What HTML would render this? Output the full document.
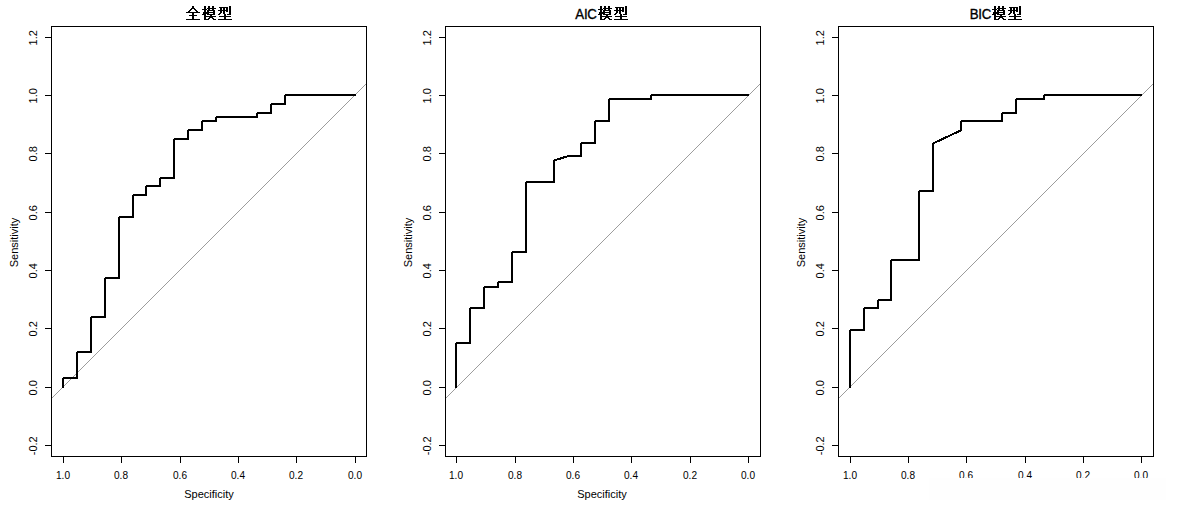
<!DOCTYPE html><html><head><meta charset="utf-8"><style>html,body{margin:0;padding:0;background:#fff;}svg{display:block;}</style></head><body>
<svg width="1180" height="508" viewBox="0 0 1180 508">
<rect width="1180" height="508" fill="#fff"/>
<g shape-rendering="crispEdges"><rect x="51.5" y="26.5" width="315" height="430" fill="none" stroke="#000" stroke-width="1"/><line x1="45" y1="37.5" x2="51" y2="37.5" stroke="#000" stroke-width="1"/><line x1="45" y1="95.5" x2="51" y2="95.5" stroke="#000" stroke-width="1"/><line x1="45" y1="153.5" x2="51" y2="153.5" stroke="#000" stroke-width="1"/><line x1="45" y1="212.5" x2="51" y2="212.5" stroke="#000" stroke-width="1"/><line x1="45" y1="270.5" x2="51" y2="270.5" stroke="#000" stroke-width="1"/><line x1="45" y1="328.5" x2="51" y2="328.5" stroke="#000" stroke-width="1"/><line x1="45" y1="387.5" x2="51" y2="387.5" stroke="#000" stroke-width="1"/><line x1="45" y1="445.5" x2="51" y2="445.5" stroke="#000" stroke-width="1"/><line x1="63.5" y1="457" x2="63.5" y2="463" stroke="#000" stroke-width="1"/><line x1="121.5" y1="457" x2="121.5" y2="463" stroke="#000" stroke-width="1"/><line x1="180.5" y1="457" x2="180.5" y2="463" stroke="#000" stroke-width="1"/><line x1="238.5" y1="457" x2="238.5" y2="463" stroke="#000" stroke-width="1"/><line x1="296.5" y1="457" x2="296.5" y2="463" stroke="#000" stroke-width="1"/><line x1="355.5" y1="457" x2="355.5" y2="463" stroke="#000" stroke-width="1"/></g>
<line x1="52" y1="398" x2="366" y2="84" stroke="#9c9c9c" stroke-width="1" shape-rendering="crispEdges"/>
<path d="M63 387 L63 378 L77 378 L77 352 L91 352 L91 317 L105 317 L105 278 L119 278 L119 217 L133 217 L133 195 L146 195 L146 186 L160 186 L160 178 L174 178 L174 139 L188 139 L188 130 L202 130 L202 121 L216 121 L216 117 L257 117 L257 113 L271 113 L271 104 L285 104 L285 95 L355 95" fill="none" stroke="#000" stroke-width="2" stroke-linejoin="bevel" stroke-linecap="round" shape-rendering="crispEdges"/>
<g font-family='"Liberation Sans", sans-serif' font-size="11" fill="#000"><text transform="translate(63 479) scale(0.92 1)" text-anchor="middle">1.0</text><text transform="translate(121 479) scale(0.92 1)" text-anchor="middle">0.8</text><text transform="translate(180 479) scale(0.92 1)" text-anchor="middle">0.6</text><text transform="translate(238 479) scale(0.92 1)" text-anchor="middle">0.4</text><text transform="translate(296 479) scale(0.92 1)" text-anchor="middle">0.2</text><text transform="translate(355 479) scale(0.92 1)" text-anchor="middle">0.0</text><text transform="translate(36.7 37.8) rotate(-90)" text-anchor="middle">1.2</text><text transform="translate(36.7 95.8) rotate(-90)" text-anchor="middle">1.0</text><text transform="translate(36.7 153.8) rotate(-90)" text-anchor="middle">0.8</text><text transform="translate(36.7 212.8) rotate(-90)" text-anchor="middle">0.6</text><text transform="translate(36.7 270.8) rotate(-90)" text-anchor="middle">0.4</text><text transform="translate(36.7 328.8) rotate(-90)" text-anchor="middle">0.2</text><text transform="translate(36.7 387.8) rotate(-90)" text-anchor="middle">0.0</text><text transform="translate(36.7 445.8) rotate(-90)" text-anchor="middle">-0.2</text><text x="209" y="498" text-anchor="middle">Specificity</text><text transform="translate(18 242.5) rotate(-90)" text-anchor="middle">Sensitivity</text></g>
<g fill="#000"><path shape-rendering="crispEdges" d="M192 6h2v1h-2zM192 7h2v1h-2zM191 8h4v1h-4zM190 9h2v1h-2zM194 9h2v1h-2zM189 10h2v1h-2zM195 10h2v1h-2zM188 11h2v1h-2zM196 11h2v1h-2zM186 12h14v1h-14zM192 13h2v1h-2zM192 14h2v1h-2zM189 15h8v1h-8zM192 16h2v1h-2zM192 17h2v1h-2zM192 18h2v1h-2zM186 19h14v1h-14z"/><path shape-rendering="crispEdges" d="M204 6h2v1h-2zM208 6h2v1h-2zM212 6h2v1h-2zM204 7h2v1h-2zM208 7h2v1h-2zM212 7h2v1h-2zM204 8h2v1h-2zM207 8h9v1h-9zM202 9h5v1h-5zM208 9h2v1h-2zM212 9h2v1h-2zM204 10h2v1h-2zM207 10h8v1h-8zM204 11h2v1h-2zM207 11h2v1h-2zM213 11h2v1h-2zM203 12h12v1h-12zM203 13h6v1h-6zM213 13h2v1h-2zM202 14h4v1h-4zM207 14h8v1h-8zM204 15h2v1h-2zM210 15h2v1h-2zM204 16h12v1h-12zM204 17h2v1h-2zM209 17h4v1h-4zM204 18h2v1h-2zM208 18h2v1h-2zM212 18h2v1h-2zM204 19h5v1h-5zM213 19h3v1h-3z"/><path shape-rendering="crispEdges" d="M229 6h2v1h-2zM219 7h9v1h-9zM229 7h2v1h-2zM220 8h2v1h-2zM223 8h2v1h-2zM226 8h2v1h-2zM229 8h2v1h-2zM220 9h2v1h-2zM223 9h2v1h-2zM226 9h2v1h-2zM229 9h2v1h-2zM218 10h10v1h-10zM229 10h2v1h-2zM220 11h2v1h-2zM223 11h2v1h-2zM226 11h2v1h-2zM229 11h2v1h-2zM220 12h2v1h-2zM223 12h2v1h-2zM229 12h2v1h-2zM219 13h2v1h-2zM223 13h2v1h-2zM229 13h2v1h-2zM218 14h2v1h-2zM224 14h2v1h-2zM227 14h4v1h-4zM224 15h2v1h-2zM219 16h12v1h-12zM224 17h2v1h-2zM224 18h2v1h-2zM218 19h14v1h-14z"/></g>
<g shape-rendering="crispEdges"><rect x="445.5" y="26.5" width="315" height="430" fill="none" stroke="#000" stroke-width="1"/><line x1="439" y1="37.5" x2="445" y2="37.5" stroke="#000" stroke-width="1"/><line x1="439" y1="95.5" x2="445" y2="95.5" stroke="#000" stroke-width="1"/><line x1="439" y1="153.5" x2="445" y2="153.5" stroke="#000" stroke-width="1"/><line x1="439" y1="212.5" x2="445" y2="212.5" stroke="#000" stroke-width="1"/><line x1="439" y1="270.5" x2="445" y2="270.5" stroke="#000" stroke-width="1"/><line x1="439" y1="328.5" x2="445" y2="328.5" stroke="#000" stroke-width="1"/><line x1="439" y1="387.5" x2="445" y2="387.5" stroke="#000" stroke-width="1"/><line x1="439" y1="445.5" x2="445" y2="445.5" stroke="#000" stroke-width="1"/><line x1="456.5" y1="457" x2="456.5" y2="463" stroke="#000" stroke-width="1"/><line x1="515.5" y1="457" x2="515.5" y2="463" stroke="#000" stroke-width="1"/><line x1="573.5" y1="457" x2="573.5" y2="463" stroke="#000" stroke-width="1"/><line x1="631.5" y1="457" x2="631.5" y2="463" stroke="#000" stroke-width="1"/><line x1="690.5" y1="457" x2="690.5" y2="463" stroke="#000" stroke-width="1"/><line x1="748.5" y1="457" x2="748.5" y2="463" stroke="#000" stroke-width="1"/></g>
<line x1="446" y1="398" x2="760" y2="84" stroke="#9c9c9c" stroke-width="1" shape-rendering="crispEdges"/>
<path d="M456 387 L456 343 L470 343 L470 308 L484 308 L484 287 L498 287 L498 282 L512 282 L512 252 L526 252 L526 182 L554 182 L554 160.5 L568.5 156 L581 156 L581 143 L595 143 L595 121 L609 121 L609 99 L651 99 L651 95 L748 95" fill="none" stroke="#000" stroke-width="2" stroke-linejoin="bevel" stroke-linecap="round" shape-rendering="crispEdges"/>
<g font-family='"Liberation Sans", sans-serif' font-size="11" fill="#000"><text transform="translate(456 479) scale(0.92 1)" text-anchor="middle">1.0</text><text transform="translate(515 479) scale(0.92 1)" text-anchor="middle">0.8</text><text transform="translate(573 479) scale(0.92 1)" text-anchor="middle">0.6</text><text transform="translate(631 479) scale(0.92 1)" text-anchor="middle">0.4</text><text transform="translate(690 479) scale(0.92 1)" text-anchor="middle">0.2</text><text transform="translate(748 479) scale(0.92 1)" text-anchor="middle">0.0</text><text transform="translate(430.7 37.8) rotate(-90)" text-anchor="middle">1.2</text><text transform="translate(430.7 95.8) rotate(-90)" text-anchor="middle">1.0</text><text transform="translate(430.7 153.8) rotate(-90)" text-anchor="middle">0.8</text><text transform="translate(430.7 212.8) rotate(-90)" text-anchor="middle">0.6</text><text transform="translate(430.7 270.8) rotate(-90)" text-anchor="middle">0.4</text><text transform="translate(430.7 328.8) rotate(-90)" text-anchor="middle">0.2</text><text transform="translate(430.7 387.8) rotate(-90)" text-anchor="middle">0.0</text><text transform="translate(430.7 445.8) rotate(-90)" text-anchor="middle">-0.2</text><text x="602" y="498" text-anchor="middle">Specificity</text><text transform="translate(412 242.5) rotate(-90)" text-anchor="middle">Sensitivity</text></g>
<g fill="#000"><path shape-rendering="crispEdges" d="M600 6h2v1h-2zM604 6h2v1h-2zM608 6h2v1h-2zM600 7h2v1h-2zM604 7h2v1h-2zM608 7h2v1h-2zM600 8h2v1h-2zM603 8h9v1h-9zM598 9h5v1h-5zM604 9h2v1h-2zM608 9h2v1h-2zM600 10h2v1h-2zM603 10h8v1h-8zM600 11h2v1h-2zM603 11h2v1h-2zM609 11h2v1h-2zM599 12h12v1h-12zM599 13h6v1h-6zM609 13h2v1h-2zM598 14h4v1h-4zM603 14h8v1h-8zM600 15h2v1h-2zM606 15h2v1h-2zM600 16h12v1h-12zM600 17h2v1h-2zM605 17h4v1h-4zM600 18h2v1h-2zM604 18h2v1h-2zM608 18h2v1h-2zM600 19h5v1h-5zM609 19h3v1h-3z"/><path shape-rendering="crispEdges" d="M625 6h2v1h-2zM615 7h9v1h-9zM625 7h2v1h-2zM616 8h2v1h-2zM619 8h2v1h-2zM622 8h2v1h-2zM625 8h2v1h-2zM616 9h2v1h-2zM619 9h2v1h-2zM622 9h2v1h-2zM625 9h2v1h-2zM614 10h10v1h-10zM625 10h2v1h-2zM616 11h2v1h-2zM619 11h2v1h-2zM622 11h2v1h-2zM625 11h2v1h-2zM616 12h2v1h-2zM619 12h2v1h-2zM625 12h2v1h-2zM615 13h2v1h-2zM619 13h2v1h-2zM625 13h2v1h-2zM614 14h2v1h-2zM620 14h2v1h-2zM623 14h4v1h-4zM620 15h2v1h-2zM615 16h12v1h-12zM620 17h2v1h-2zM620 18h2v1h-2zM614 19h14v1h-14z"/></g>
<text transform="translate(575.3 19) scale(0.95 1)" font-family='"Liberation Sans", sans-serif' font-size="14" fill="#000" stroke="#000" stroke-width="0.35" letter-spacing="-0.3">AIC</text>
<g shape-rendering="crispEdges"><rect x="838.5" y="26.5" width="315" height="430" fill="none" stroke="#000" stroke-width="1"/><line x1="832" y1="37.5" x2="838" y2="37.5" stroke="#000" stroke-width="1"/><line x1="832" y1="95.5" x2="838" y2="95.5" stroke="#000" stroke-width="1"/><line x1="832" y1="153.5" x2="838" y2="153.5" stroke="#000" stroke-width="1"/><line x1="832" y1="212.5" x2="838" y2="212.5" stroke="#000" stroke-width="1"/><line x1="832" y1="270.5" x2="838" y2="270.5" stroke="#000" stroke-width="1"/><line x1="832" y1="328.5" x2="838" y2="328.5" stroke="#000" stroke-width="1"/><line x1="832" y1="387.5" x2="838" y2="387.5" stroke="#000" stroke-width="1"/><line x1="832" y1="445.5" x2="838" y2="445.5" stroke="#000" stroke-width="1"/><line x1="850.5" y1="457" x2="850.5" y2="463" stroke="#000" stroke-width="1"/><line x1="908.5" y1="457" x2="908.5" y2="463" stroke="#000" stroke-width="1"/><line x1="966.5" y1="457" x2="966.5" y2="463" stroke="#000" stroke-width="1"/><line x1="1025.5" y1="457" x2="1025.5" y2="463" stroke="#000" stroke-width="1"/><line x1="1083.5" y1="457" x2="1083.5" y2="463" stroke="#000" stroke-width="1"/><line x1="1141.5" y1="457" x2="1141.5" y2="463" stroke="#000" stroke-width="1"/></g>
<line x1="839" y1="398" x2="1153" y2="84" stroke="#9c9c9c" stroke-width="1" shape-rendering="crispEdges"/>
<path d="M850 387 L850 330 L864 330 L864 308 L878 308 L878 300 L891 300 L891 260 L919 260 L919 191 L933 191 L933 143.5 L961 130.3 L961 121 L1002 121 L1002 113 L1016 113 L1016 99 L1044 99 L1044 95 L1141 95" fill="none" stroke="#000" stroke-width="2" stroke-linejoin="bevel" stroke-linecap="round" shape-rendering="crispEdges"/>
<g font-family='"Liberation Sans", sans-serif' font-size="11" fill="#000"><text transform="translate(850 479) scale(0.92 1)" text-anchor="middle">1.0</text><text transform="translate(908 479) scale(0.92 1)" text-anchor="middle">0.8</text><text transform="translate(966 479) scale(0.92 1)" text-anchor="middle">0.6</text><text transform="translate(1025 479) scale(0.92 1)" text-anchor="middle">0.4</text><text transform="translate(1083 479) scale(0.92 1)" text-anchor="middle">0.2</text><text transform="translate(1141 479) scale(0.92 1)" text-anchor="middle">0.0</text><text transform="translate(823.7 37.8) rotate(-90)" text-anchor="middle">1.2</text><text transform="translate(823.7 95.8) rotate(-90)" text-anchor="middle">1.0</text><text transform="translate(823.7 153.8) rotate(-90)" text-anchor="middle">0.8</text><text transform="translate(823.7 212.8) rotate(-90)" text-anchor="middle">0.6</text><text transform="translate(823.7 270.8) rotate(-90)" text-anchor="middle">0.4</text><text transform="translate(823.7 328.8) rotate(-90)" text-anchor="middle">0.2</text><text transform="translate(823.7 387.8) rotate(-90)" text-anchor="middle">0.0</text><text transform="translate(823.7 445.8) rotate(-90)" text-anchor="middle">-0.2</text><text x="996" y="498" text-anchor="middle">Specificity</text><text transform="translate(805 242.5) rotate(-90)" text-anchor="middle">Sensitivity</text></g>
<g fill="#000"><path shape-rendering="crispEdges" d="M994 6h2v1h-2zM998 6h2v1h-2zM1002 6h2v1h-2zM994 7h2v1h-2zM998 7h2v1h-2zM1002 7h2v1h-2zM994 8h2v1h-2zM997 8h9v1h-9zM992 9h5v1h-5zM998 9h2v1h-2zM1002 9h2v1h-2zM994 10h2v1h-2zM997 10h8v1h-8zM994 11h2v1h-2zM997 11h2v1h-2zM1003 11h2v1h-2zM993 12h12v1h-12zM993 13h6v1h-6zM1003 13h2v1h-2zM992 14h4v1h-4zM997 14h8v1h-8zM994 15h2v1h-2zM1000 15h2v1h-2zM994 16h12v1h-12zM994 17h2v1h-2zM999 17h4v1h-4zM994 18h2v1h-2zM998 18h2v1h-2zM1002 18h2v1h-2zM994 19h5v1h-5zM1003 19h3v1h-3z"/><path shape-rendering="crispEdges" d="M1019 6h2v1h-2zM1009 7h9v1h-9zM1019 7h2v1h-2zM1010 8h2v1h-2zM1013 8h2v1h-2zM1016 8h2v1h-2zM1019 8h2v1h-2zM1010 9h2v1h-2zM1013 9h2v1h-2zM1016 9h2v1h-2zM1019 9h2v1h-2zM1008 10h10v1h-10zM1019 10h2v1h-2zM1010 11h2v1h-2zM1013 11h2v1h-2zM1016 11h2v1h-2zM1019 11h2v1h-2zM1010 12h2v1h-2zM1013 12h2v1h-2zM1019 12h2v1h-2zM1009 13h2v1h-2zM1013 13h2v1h-2zM1019 13h2v1h-2zM1008 14h2v1h-2zM1014 14h2v1h-2zM1017 14h4v1h-4zM1014 15h2v1h-2zM1009 16h12v1h-12zM1014 17h2v1h-2zM1014 18h2v1h-2zM1008 19h14v1h-14z"/></g>
<text transform="translate(969.6999999999999 19) scale(0.95 1)" font-family='"Liberation Sans", sans-serif' font-size="14" fill="#000" stroke="#000" stroke-width="0.35" letter-spacing="-0.3">BIC</text>
<rect x="929" y="478" width="237" height="22" fill="#fefefe"/>
</svg></body></html>
